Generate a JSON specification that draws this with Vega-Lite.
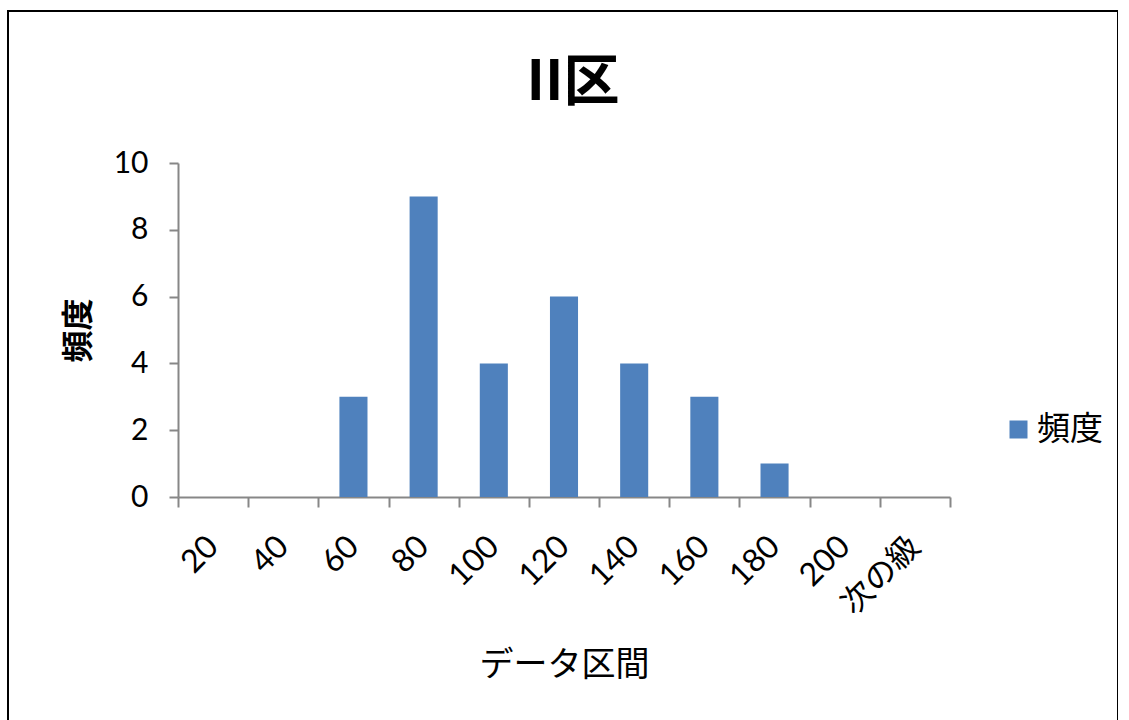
{
  "$schema": "https://vega.github.io/schema/vega-lite/v6.json",
  "width": 1110,
  "height": 730,
  "autosize": {"type": "none"},
  "padding": {"left": 8, "top": 11, "right": 0, "bottom": 0},
  "background": "white",
  "config": {
    "view": {"stroke": "black", "strokeWidth": 2},
    "font": "Noto Sans CJK JP"
  },
  "title": {
    "text": "II区",
    "font": "Noto Sans CJK JP",
    "fontSize": 56,
    "fontWeight": "bold",
    "color": "black",
    "anchor": "middle",
    "baseline": "bottom",
    "offset": -157,
    "dx": 10
  },
  "data": {
    "values": [
      {"bin": "20", "count": 0, "series": "頻度"},
      {"bin": "40", "count": 0, "series": "頻度"},
      {"bin": "60", "count": 3, "series": "頻度"},
      {"bin": "80", "count": 9, "series": "頻度"},
      {"bin": "100", "count": 4, "series": "頻度"},
      {"bin": "120", "count": 6, "series": "頻度"},
      {"bin": "140", "count": 4, "series": "頻度"},
      {"bin": "160", "count": 3, "series": "頻度"},
      {"bin": "180", "count": 1, "series": "頻度"},
      {"bin": "200", "count": 0, "series": "頻度"},
      {"bin": "次の級", "count": 0, "series": "頻度"}
    ]
  },
  "layer": [
    {
      "mark": {"type": "bar"},
      "encoding": {
        "x": {
          "field": "bin",
          "type": "nominal",
          "sort": null,
          "scale": {"range": [170, 942], "paddingInner": 0.6, "paddingOuter": 0.3},
          "axis": {
            "orient": "bottom",
            "offset": -244,
            "domain": false,
            "ticks": false,
            "labelAngle": -45,
            "labelBaseline": "middle",
            "labelAlign": "right",
            "labelFont": "Lato, Noto Sans CJK JP",
            "labelFontSize": 32,
            "labelColor": "black",
            "labelPadding": 44,
            "labelDx": 9,
            "title": "データ区間",
            "titleFont": "Noto Sans CJK JP",
            "titleFontSize": 34,
            "titleFontWeight": "normal",
            "titleColor": "black",
            "titlePadding": 28
          }
        },
        "y": {
          "field": "count",
          "type": "quantitative",
          "scale": {"domain": [0, 10], "range": [486, 152], "nice": false},
          "axis": {
            "orient": "left",
            "offset": -170,
            "values": [0, 2, 4, 6, 8, 10],
            "grid": false,
            "domainColor": "#878787",
            "domainWidth": 2,
            "tickColor": "#878787",
            "tickWidth": 2,
            "tickSize": 9,
            "labelFont": "Lato",
            "labelFontSize": 30,
            "labelColor": "black",
            "labelPadding": 21,
            "title": "頻度",
            "titleFont": "Noto Sans CJK JP",
            "titleFontSize": 32,
            "titleFontWeight": "bold",
            "titleColor": "black",
            "titlePadding": 18
          }
        },
        "color": {
          "field": "series",
          "type": "nominal",
          "scale": {"range": ["#4F81BD"]},
          "legend": {
            "orient": "none",
            "legendX": 994,
            "legendY": 402,
            "title": null,
            "symbolType": "square",
            "symbolSize": 324,
            "symbolStrokeWidth": 0,
            "labelFont": "Noto Sans CJK JP",
            "labelFontSize": 33,
            "labelColor": "black",
            "labelOffset": 2
          }
        }
      }
    },
    {
      "mark": {"type": "rule", "opacity": 0},
      "encoding": {
        "x": {
          "datum": 0,
          "type": "quantitative",
          "scale": {"domain": [0, 11], "range": [170, 942], "nice": false, "zero": false},
          "axis": {
            "orient": "bottom",
            "offset": -244,
            "values": [0, 1, 2, 3, 4, 5, 6, 7, 8, 9, 10, 11],
            "labels": false,
            "title": null,
            "grid": false,
            "domainColor": "#878787",
            "domainWidth": 2,
            "tickColor": "#878787",
            "tickWidth": 2,
            "tickSize": 10
          }
        }
      }
    }
  ],
  "resolve": {"scale": {"x": "independent"}}
}
